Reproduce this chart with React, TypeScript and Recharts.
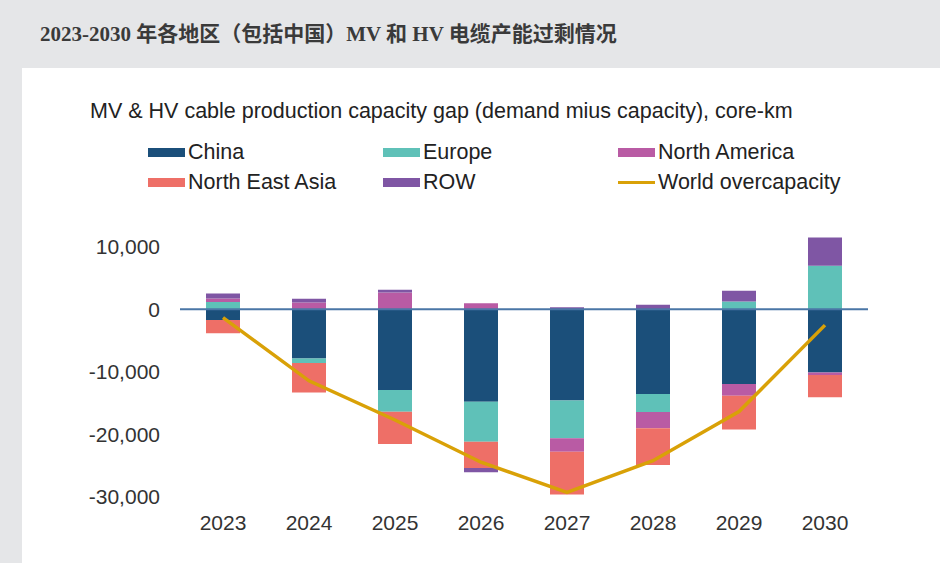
import React from "react";
import {
  Bar,
  ComposedChart,
  Legend,
  Line,
  ReferenceLine,
  XAxis,
  YAxis,
} from "recharts";

const years = ["2023", "2024", "2025", "2026", "2027", "2028", "2029", "2030"];
const china = [-1750, -7870, -12920, -14780, -14570, -13560, -11960, -10100];
const europe = [1160, -750, -3460, -6380, -6060, -2870, 1220, 6910];
const northAmerica = [550, 1050, 2650, 960, -2130, -2600, -1860, -430];
const northEastAsia = [-2100, -4680, -5150, -4200, -6860, -5850, -5420, -3560];
const rowRegion = [800, 600, 430, -690, 320, 690, 1700, 4520];
const worldOvercapacity = [-1350, -11450, -17700, -24450, -29250, -24200, -16350, -2550];
const yTicks = [-30000, -20000, -10000, 0, 10000];

const COLORS = {
  china: "#1b4f7a",
  europe: "#5fc1b8",
  northAmerica: "#b95ba4",
  northEastAsia: "#ee6f67",
  row: "#7f56a4",
  world: "#d9a107",
  zero: "#4a76a6",
};

const data = years.map((year, i) => ({
  year,
  China: china[i],
  Europe: europe[i],
  "North America": northAmerica[i],
  "North East Asia": northEastAsia[i],
  ROW: rowRegion[i],
  "World overcapacity": worldOvercapacity[i],
}));

const FONT = '"Liberation Sans", Arial, sans-serif';

function LegendGrid({ payload }: { payload?: any[] }) {
  return (
    <div
      style={{
        display: "grid",
        gridTemplateColumns: "235px 235px 235px",
        rowGap: 6,
        fontFamily: FONT,
        fontSize: 21.5,
        color: "#222",
      }}
    >
      {(payload ?? []).map((p) => (
        <div key={p.value} style={{ display: "flex", alignItems: "center", height: 24 }}>
          <span
            style={{
              display: "inline-block",
              width: 37,
              height: p.type === "line" ? 3 : 9,
              background: p.color,
              marginRight: 3,
            }}
          />
          <span>{p.value}</span>
        </div>
      ))}
    </div>
  );
}

export default function App() {
  return (
    <div
      style={{
        position: "absolute",
        left: 0,
        top: 0,
        width: 940,
        height: 563,
        background: "#e5e6e8",
        overflow: "hidden",
      }}
    >
      <div
        style={{
          position: "absolute",
          left: 40,
          top: 17,
          fontFamily: '"Liberation Serif", "Noto Sans CJK SC", serif',
          fontWeight: "bold",
          fontSize: 21,
          color: "#3a3a3a",
          whiteSpace: "nowrap",
        }}
      >
        2023-2030 年各地区（包括中国）MV 和 HV 电缆产能过剩情况
      </div>
      <div
        style={{
          position: "absolute",
          left: 22,
          top: 68,
          width: 918,
          height: 495,
          background: "#ffffff",
        }}
      />
      <div
        style={{
          position: "absolute",
          left: 90,
          top: 99,
          fontFamily: FONT,
          fontSize: 21.5,
          color: "#222",
          whiteSpace: "nowrap",
        }}
      >
        MV &amp; HV cable production capacity gap (demand mius capacity), core-km
      </div>
      <div style={{ position: "absolute", left: 0, top: 0 }}>
        <ComposedChart
          width={940}
          height={563}
          data={data}
          stackOffset="sign"
          margin={{ top: 234, right: 72, bottom: 36, left: 100 }}
        >
          <XAxis
            dataKey="year"
            axisLine={false}
            tickLine={false}
            height={30}
            tickMargin={12}
            tick={{ fontSize: 21, fill: "#333", fontFamily: FONT }}
          />
          <YAxis
            width={80}
            domain={[-30000, 12000]}
            ticks={yTicks}
            axisLine={false}
            tickLine={false}
            tickMargin={14}
            tickFormatter={(v: number) => v.toLocaleString("en-US")}
            tick={{ fontSize: 21, fill: "#333", fontFamily: FONT }}
          />
          <Legend
            layout="horizontal"
            verticalAlign="middle"
            align="center"
            wrapperStyle={{ top: 140, left: 148, width: 720 }}
            content={(props: any) => <LegendGrid payload={props.payload} />}
          />
          <Bar dataKey="China" stackId="a" fill={COLORS.china} barSize={34} isAnimationActive={false} />
          <Bar dataKey="Europe" stackId="a" fill={COLORS.europe} barSize={34} isAnimationActive={false} />
          <Bar dataKey="North America" stackId="a" fill={COLORS.northAmerica} barSize={34} isAnimationActive={false} />
          <Bar dataKey="North East Asia" stackId="a" fill={COLORS.northEastAsia} barSize={34} isAnimationActive={false} />
          <Bar dataKey="ROW" stackId="a" fill={COLORS.row} barSize={34} isAnimationActive={false} />
          <ReferenceLine y={0} stroke={COLORS.zero} strokeWidth={2} />
          <Line
            dataKey="World overcapacity"
            type="linear"
            stroke={COLORS.world}
            strokeWidth={3.5}
            dot={false}
            legendType="line"
            isAnimationActive={false}
          />
        </ComposedChart>
      </div>
    </div>
  );
}
